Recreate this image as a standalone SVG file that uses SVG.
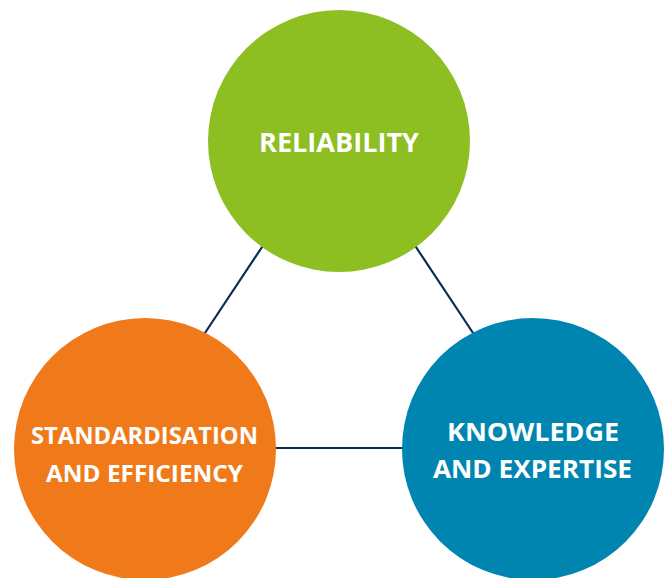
<svg xmlns="http://www.w3.org/2000/svg" width="668" height="578" viewBox="0 0 668 578">
<style>
.lbl{font-family:"Open Sans","Liberation Sans",sans-serif;font-weight:700;fill:#ffffff;text-anchor:middle}
.conn{stroke:#0c2b56;stroke-width:2.2;fill:none}
</style>
<rect width="668" height="578" fill="#ffffff"/>
<g id="connectors">
<line class="conn" x1="272" y1="232" x2="195" y2="348"/>
<line class="conn" x1="406" y1="232" x2="483" y2="348"/>
<line class="conn" x1="260" y1="448" x2="418" y2="448"/>
</g>
<g id="reliability">
<circle cx="339" cy="141" r="131" fill="#8dbe22"/>
<text class="lbl" x="339" y="152" font-size="26" textLength="160" lengthAdjust="spacingAndGlyphs">RELIABILITY</text>
</g>
<g id="standardisation">
<circle cx="145" cy="449" r="131" fill="#f07a1a"/>
<text class="lbl" x="144.5" y="444" font-size="23" textLength="227" lengthAdjust="spacingAndGlyphs">STANDARDISATION</text>
<text class="lbl" x="144.5" y="482" font-size="23" textLength="197" lengthAdjust="spacingAndGlyphs">AND EFFICIENCY</text>
</g>
<g id="knowledge">
<circle cx="533" cy="449" r="131" fill="#0085b0"/>
<text class="lbl" x="533" y="441" font-size="25" textLength="172" lengthAdjust="spacingAndGlyphs">KNOWLEDGE</text>
<text class="lbl" x="532.5" y="478" font-size="25" textLength="199" lengthAdjust="spacingAndGlyphs">AND EXPERTISE</text>
</g>
</svg>
